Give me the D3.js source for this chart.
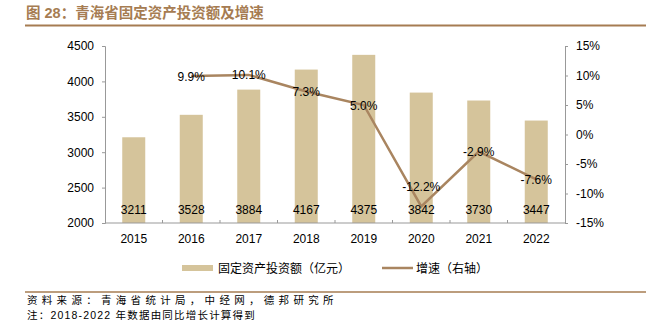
<!DOCTYPE html>
<html><head><meta charset="utf-8">
<script src="https://cdn.jsdelivr.net/npm/d3@7"></script>
<style>body{margin:0;background:#fff}svg{display:block}</style>
</head><body>
<svg id="c" width="658" height="323"></svg>
<script>
const years = ["2015","2016","2017","2018","2019","2020","2021","2022"];
const investment = [3211,3528,3884,4167,4375,3842,3730,3447];
const growth = [null,9.9,10.1,7.3,5.0,-12.2,-2.9,-7.6];
const leftTicks = [2000,2500,3000,3500,4000,4500];
const rightTicks = [-15,-10,-5,0,5,10,15];
const title = "图 28：青海省固定资产投资额及增速";
const legendLabels = ["固定资产投资额（亿元）","增速（右轴）"];
const notes = ["资料来源：青海省统计局，中经网，德邦研究所","注：2018-2022 年数据由同比增长计算得到"];

const barColor = "#d5c49b", lineColor = "#a98560", accent = "#a67c52";
const latin = "'Liberation Sans', Arial, sans-serif";
const cjk = "'Liberation Sans', 'Noto Sans CJK SC', sans-serif";
const svg = d3.select("#c");
const L = 105, R = 565, T = 46, B = 223;

const xb = d3.scaleBand().domain(years).range([L, R]);
const yL = d3.scaleLinear().domain([2000,4500]).range([B, T]);
const yR = d3.scaleLinear().domain([-15,15]).range([B, T]);

// title
svg.append("text").attr("x",26).attr("y",17.5).attr("fill",accent)
  .attr("font-family",cjk).attr("font-weight","bold").attr("font-size",14.5).text(title);
svg.append("line").attr("x1",25).attr("x2",646).attr("y1",25.5).attr("y2",25.5)
  .attr("stroke",accent).attr("stroke-width",2);

// bars
svg.append("g").selectAll("rect").data(investment).join("rect")
  .attr("x",(d,i)=>xb(years[i]) + xb.bandwidth()/2 - 11.5).attr("width",23)
  .attr("y",d=>yL(d)).attr("height",d=>B-yL(d)).attr("fill",barColor);

// axes
const axL = svg.append("g").attr("transform",`translate(${L},0)`)
  .call(d3.axisLeft(yL).tickValues(leftTicks).tickSize(3).tickPadding(8).tickFormat(d3.format("d")));
const axR = svg.append("g").attr("transform",`translate(${R},0)`)
  .call(d3.axisRight(yR).tickValues(rightTicks).tickSize(3).tickPadding(8).tickFormat(d=>d+"%"));
[axL,axR].forEach(a=>{
  a.select(".domain").attr("stroke","#999");
  a.selectAll(".tick line").attr("stroke","#999");
  a.selectAll("text").attr("font-family",latin).attr("font-size",12).attr("fill","#000");
});
const axB = svg.append("g").attr("transform",`translate(0,${B})`)
  .call(d3.axisBottom(xb).tickSize(0).tickPadding(11));
axB.select(".domain").attr("stroke","#999").attr("d",`M${L},0H${R}`);
axB.selectAll("text").attr("font-family",latin).attr("font-size",12).attr("fill","#000");
svg.append("g").selectAll("line").data(years.slice(1)).join("line")
  .attr("x1",d=>xb(d)).attr("x2",d=>xb(d)).attr("y1",B-3).attr("y2",B)
  .attr("stroke","#999");

// line
const pts = growth.map((g,i)=>({g,yr:years[i]})).filter(p=>p.g!==null);
const line = d3.line().x(p=>xb(p.yr)+xb.bandwidth()/2).y(p=>yR(p.g));
svg.append("path").datum(pts).attr("d",line).attr("fill","none")
  .attr("stroke",lineColor).attr("stroke-width",2.5);

// bar labels
svg.append("g").selectAll("text").data(investment).join("text")
  .attr("x",(d,i)=>xb(years[i])+xb.bandwidth()/2).attr("y",214)
  .attr("text-anchor","middle").attr("font-family",latin).attr("font-size",12).text(d=>d);

// growth labels
svg.append("g").selectAll("text").data(pts).join("text")
  .attr("x",p=>xb(p.yr)+xb.bandwidth()/2)
  .attr("y",p=>{const yy=yR(p.g); return (yy>195? yy-20 : yy)+4.5;})
  .attr("text-anchor","middle").attr("font-family",latin).attr("font-size",12)
  .text(p=>p.g.toFixed(1)+"%");

// legend
svg.append("rect").attr("x",182).attr("y",265).attr("width",31).attr("height",6).attr("fill",barColor);
svg.append("text").attr("x",218).attr("y",272.5).attr("font-family",cjk).attr("font-size",12).text(legendLabels[0]);
svg.append("line").attr("x1",382).attr("x2",413).attr("y1",268).attr("y2",268).attr("stroke",lineColor).attr("stroke-width",2.5);
svg.append("text").attr("x",416).attr("y",272.5).attr("font-family",cjk).attr("font-size",12).text(legendLabels[1]);

// footer
svg.append("line").attr("x1",25).attr("x2",646).attr("y1",292).attr("y2",292)
  .attr("stroke",accent).attr("stroke-width",1.5);
svg.append("text").attr("x",27).attr("y",303.5).attr("font-family",cjk).attr("font-size",10.5)
  .attr("letter-spacing",4.3).text(notes[0]);
svg.append("text").attr("x",27).attr("y",318.5).attr("font-family",cjk).attr("font-size",10.5)
  .attr("letter-spacing",1.2).text(notes[1]);
</script>
</body></html>
